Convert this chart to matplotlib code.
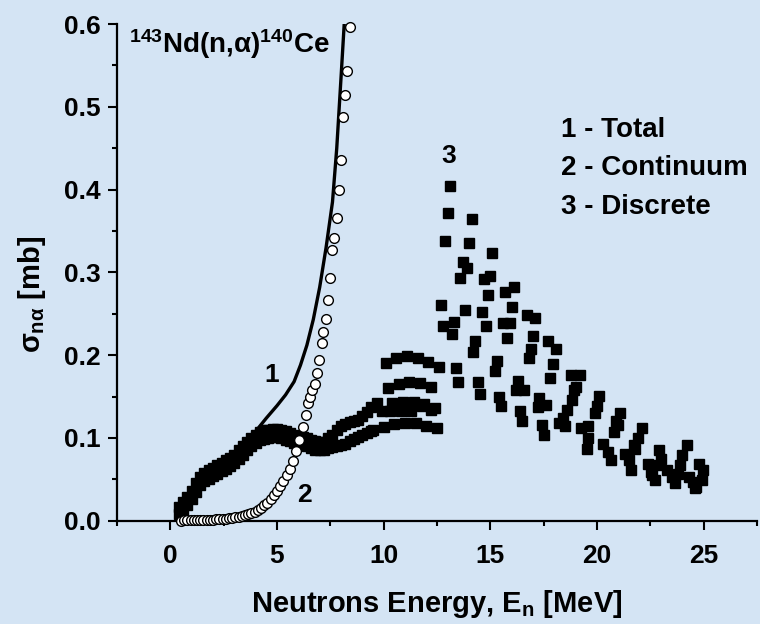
import numpy as np
import matplotlib
matplotlib.use('Agg')
from matplotlib import pyplot as plt
from matplotlib.ticker import MultipleLocator

# total cross section (curve 1)
tot_E = [0.33, 0.7, 1.0, 1.3, 1.7, 2.1, 2.5, 3.0, 3.5, 4.0, 4.5, 5.0, 5.4,
         5.8, 6.1, 6.4, 6.7, 7.0, 7.3, 7.6, 7.8, 8.0, 8.15, 8.25]
tot_s = [0.012, 0.02, 0.032, 0.045, 0.052, 0.058, 0.065, 0.074, 0.088, 0.108,
         0.124, 0.139, 0.152, 0.168, 0.188, 0.212, 0.243, 0.282, 0.33, 0.385,
         0.45, 0.535, 0.60, 0.64]

# continuum (curve 2, open circles)
cont_E = [0.5, 0.65, 0.8, 0.95, 1.1, 1.25, 1.4, 1.55, 1.7, 1.85, 2.0, 2.15,
          2.3, 2.45, 2.6, 2.75, 2.9, 3.05, 3.2, 3.35, 3.5, 3.65, 3.8, 3.95,
          4.1, 4.25, 4.4, 4.55, 4.7, 4.85, 5.0, 5.15, 5.3, 5.45, 5.6, 5.75,
          5.9, 6.05, 6.2, 6.35, 6.46, 6.56, 6.66, 6.76, 6.86, 6.98, 7.09,
          7.17, 7.3, 7.4, 7.48, 7.6, 7.69, 7.8, 7.9, 8.0, 8.11, 8.19, 8.3, 8.42]
cont_s = [0.0002, 0.0003, 0.0004, 0.0005, 0.0006, 0.0007, 0.0008, 0.0009,
          0.001, 0.0012, 0.0014, 0.0016, 0.0019, 0.0022, 0.0026, 0.003,
          0.0035, 0.0041, 0.0048, 0.0056, 0.0066, 0.0078, 0.0092, 0.011,
          0.013, 0.0155, 0.0185, 0.022, 0.026, 0.031, 0.036, 0.042, 0.048,
          0.055, 0.062, 0.072, 0.084, 0.098, 0.113, 0.128, 0.142, 0.150,
          0.158, 0.165, 0.178, 0.194, 0.215, 0.228, 0.244, 0.267, 0.293,
          0.327, 0.342, 0.366, 0.399, 0.436, 0.488, 0.514, 0.543, 0.596]

# discrete (curve 3, squares) - low energy band, two rows
band_E = [0.4, 0.6, 0.8, 1.0, 1.2, 1.4, 1.6, 1.8, 2.0, 2.2, 2.4, 2.6, 2.8,
          3.0, 3.2, 3.4, 3.6, 3.8, 4.0, 4.2, 4.4, 4.6, 4.8, 5.0, 5.2, 5.4,
          5.6, 5.8, 6.0, 6.2, 6.4, 6.6, 6.8, 7.0, 7.2, 7.4, 7.6, 7.8, 8.0,
          8.2, 8.4, 8.6, 8.8, 9.0, 9.2, 9.4]
band_lo = [0.008, 0.013, 0.019, 0.026, 0.035, 0.043, 0.048, 0.051, 0.054,
           0.057, 0.060, 0.063, 0.066, 0.070, 0.075, 0.080, 0.085, 0.090,
           0.094, 0.097, 0.099, 0.100, 0.101, 0.101, 0.100, 0.098, 0.096,
           0.094, 0.092, 0.091, 0.090, 0.088, 0.086, 0.085, 0.085, 0.088,
           0.089, 0.090, 0.091, 0.093, 0.096, 0.099, 0.101, 0.103, 0.106, 0.108]
band_hi = [0.016, 0.023, 0.029, 0.036, 0.045, 0.053, 0.058, 0.061, 0.064,
           0.067, 0.070, 0.073, 0.076, 0.080, 0.085, 0.090, 0.095, 0.100,
           0.104, 0.107, 0.109, 0.110, 0.111, 0.111, 0.110, 0.108, 0.106,
           0.104, 0.102, 0.101, 0.100, 0.098, 0.096, 0.095, 0.095, 0.100,
           0.104, 0.110, 0.114, 0.117, 0.119, 0.120, 0.122, 0.126, 0.131, 0.137]

# discrete rows between 9.5 and 12.6 MeV
rowA_E = [10.1, 10.6, 11.1, 11.6, 12.1, 12.6]
rowA_s = [0.191, 0.197, 0.199, 0.197, 0.192, 0.186]
rowB_E = [10.2, 10.7, 11.2, 11.7, 12.2]
rowB_s = [0.160, 0.165, 0.167, 0.166, 0.162]
rowC_E = [9.7, 10.4, 10.9, 11.4, 11.9, 12.4, 9.9, 10.3, 10.8, 11.3, 11.8, 12.2]
rowC_s = [0.142, 0.142, 0.144, 0.143, 0.141, 0.136, 0.133, 0.132, 0.133,
          0.132, 0.138, 0.134]
rowD_E = [9.5, 10.0, 10.5, 11.0, 11.5, 12.0, 12.5]
rowD_s = [0.110, 0.113, 0.117, 0.118, 0.118, 0.115, 0.112]

# discrete, scattered part above 12.6 MeV
scat_E = [13.1, 13.02, 14.12, 12.89, 14.0, 15.1, 13.7, 13.9, 13.6, 14.7, 15.0,
          14.9, 15.7, 16.1, 12.69, 13.8, 14.59, 16.0, 12.78, 13.28, 13.2,
          14.8, 15.6, 15.9, 16.7, 17.1, 14.3, 14.2, 15.8, 17.0, 16.9, 16.8,
          17.7, 18.07, 15.3, 15.2, 13.4, 17.95, 13.5, 14.4, 14.5, 16.3, 16.2,
          16.6, 17.8, 15.4, 15.5, 17.3, 17.25, 17.6, 16.4, 16.5, 17.4, 17.5,
          18.8, 19.2, 18.9, 18.85, 19.0, 20.1, 20.0, 19.9, 19.25, 19.6, 19.6,
          19.55, 18.6, 18.4, 18.5, 18.2, 21.1, 20.9, 21.0, 20.8, 20.3, 20.5,
          20.65, 22.1, 21.9, 21.75, 21.8, 21.3, 21.5, 21.6, 22.9, 23.0, 22.8,
          22.6, 22.4, 22.55, 22.7, 24.2, 24.0, 23.9, 23.8, 23.3, 23.5, 23.65,
          24.8, 24.95, 24.9, 24.6, 24.3, 24.5, 24.65]
scat_s = [0.404, 0.372, 0.365, 0.338, 0.336, 0.323, 0.313, 0.305, 0.293,
          0.292, 0.296, 0.273, 0.276, 0.282, 0.261, 0.254, 0.252, 0.258,
          0.235, 0.240, 0.225, 0.235, 0.239, 0.239, 0.248, 0.245, 0.217,
          0.204, 0.221, 0.223, 0.207, 0.196, 0.217, 0.208, 0.193, 0.181,
          0.185, 0.189, 0.167, 0.168, 0.153, 0.169, 0.158, 0.158, 0.172,
          0.150, 0.138, 0.148, 0.137, 0.140, 0.132, 0.121, 0.116, 0.104,
          0.176, 0.176, 0.158, 0.146, 0.162, 0.151, 0.138, 0.130, 0.112,
          0.114, 0.100, 0.087, 0.134, 0.124, 0.114, 0.118, 0.130, 0.120,
          0.116, 0.107, 0.093, 0.083, 0.073, 0.112, 0.100, 0.091, 0.087,
          0.081, 0.073, 0.061, 0.085, 0.075, 0.067, 0.055, 0.069, 0.059,
          0.049, 0.091, 0.079, 0.067, 0.057, 0.061, 0.053, 0.045, 0.069,
          0.061, 0.049, 0.039, 0.053, 0.047, 0.041]

legend_lines = ['1 - Total', '2 - Continuum', '3 - Discrete']

plt.rcParams['font.family'] = ['Liberation Sans', 'DejaVu Sans']
plt.rcParams['font.weight'] = 'bold'
plt.rcParams['axes.labelweight'] = 'bold'
plt.rcParams['mathtext.fontset'] = 'custom'
plt.rcParams['mathtext.rm'] = 'Liberation Sans:bold'
plt.rcParams['mathtext.it'] = 'Liberation Sans:bold'
plt.rcParams['mathtext.bf'] = 'Liberation Sans:bold'
plt.rcParams['mathtext.sf'] = 'Liberation Sans:bold'

bg = '#d4e4f4'
fig = plt.figure(figsize=(7.6, 6.24), dpi=100, facecolor=bg)
ax = fig.add_axes([0.154, 0.1655, 0.842, 0.796])
ax.set_facecolor(bg)

# discrete squares, then total line, then continuum circles on top
sq = dict(marker='s', ms=6.5, color='k', ls='none', mec='k')
disc_E = band_E + band_E + rowA_E + rowB_E + rowC_E + rowD_E + scat_E
disc_s = band_lo + band_hi + rowA_s + rowB_s + rowC_s + rowD_s + scat_s
ax.plot(disc_E, disc_s, **sq, zorder=2)

ax.plot(tot_E, tot_s, 'k', lw=2.4, zorder=3)
ax.plot(cont_E, cont_s, marker='o', ms=7, mfc='white', mec='k', mew=1,
        ls='none', zorder=4, clip_on=False)

ax.set_xlim(-2.5, 27.5)
ax.set_ylim(0, 0.6)
ax.xaxis.set_major_locator(MultipleLocator(5))
ax.xaxis.set_minor_locator(MultipleLocator(2.5))
ax.yaxis.set_major_locator(MultipleLocator(0.1))
ax.yaxis.set_minor_locator(MultipleLocator(0.05))
ax.set_xticks([0, 5, 10, 15, 20, 25])
ax.yaxis.set_major_formatter(plt.FormatStrFormatter('%.1f'))

for s in ['top', 'right']:
    ax.spines[s].set_visible(False)
for s in ['left', 'bottom']:
    ax.spines[s].set_linewidth(1.6)
ax.tick_params(which='major', length=6.5, width=1.5, labelsize=19)
ax.tick_params(axis='x', which='major', pad=10)
ax.tick_params(axis='y', which='major', pad=5)
ax.tick_params(which='minor', length=3.5, width=1.5)

ax.set_xlabel('Neutrons Energy, E$_n$ [MeV]', fontsize=21, labelpad=15)
ax.set_ylabel(r'$\sigma_{n\alpha}$ [mb]', fontsize=21)
ax.yaxis.set_label_coords(-0.108, 0.455)

ax.text(-1.95, 0.565, r'$^{143}$Nd(n,$\alpha$)$^{140}$Ce', fontsize=20,
        ha='left', va='baseline')
ax.text(4.73, 0.176, '1', fontsize=19, ha='center', va='center')
ax.text(6.3, 0.031, '2', fontsize=19, ha='center', va='center')
ax.text(13.05, 0.44, '3', fontsize=19, ha='center', va='center')
for i, t in enumerate(legend_lines):
    ax.text(18.3, 0.472 - i * 0.0465, t, fontsize=20, ha='left', va='center')

plt.savefig('out.png', dpi=100, facecolor=bg)
